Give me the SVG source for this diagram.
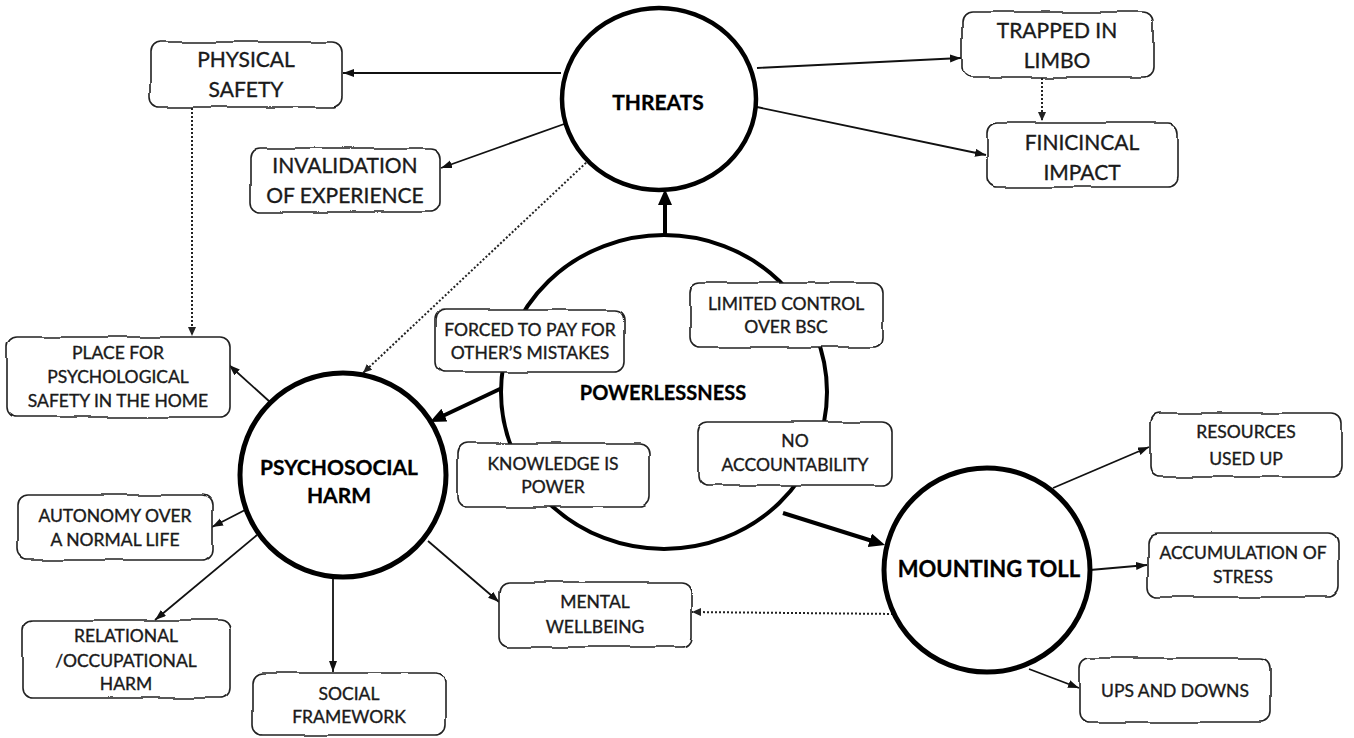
<svg xmlns="http://www.w3.org/2000/svg" width="1354" height="738" viewBox="0 0 1354 738">
  <style>
    .hub { fill: #fff; stroke: #000; }
    .box { fill: #fff; stroke: #222; stroke-width: 1.6; filter: url(#wobble); }
    .lbl { font-family: "Lato", "Open Sans", sans-serif; fill: #1a1a1a; stroke: #1a1a1a; stroke-width: 0.35; text-anchor: middle; }
    .big { font-size: 21px; }
    .sm { font-size: 17.5px; }
    .hubtxt { font-family: "Lato", "Open Sans", sans-serif; font-weight: 700; fill: #000; stroke: #000; stroke-width: 0.3; text-anchor: middle; }
    .thin { stroke: #111; stroke-width: 1.8; fill: none; marker-end: url(#tip); }
    .thick { stroke: #000; stroke-width: 4; fill: none; marker-end: url(#tipBold); }
    .dot { stroke: #222; stroke-width: 2; stroke-dasharray: 2 2; fill: none; marker-end: url(#tipDot); }
  </style>
  <defs>
    <filter id="wobble" x="-5%" y="-10%" width="110%" height="120%">
      <feTurbulence type="fractalNoise" baseFrequency="0.03" numOctaves="1" seed="4" result="noise"/>
      <feDisplacementMap in="SourceGraphic" in2="noise" scale="5" xChannelSelector="R" yChannelSelector="G"/>
    </filter>
    <marker id="tip" markerUnits="userSpaceOnUse" markerWidth="12" markerHeight="10" refX="11" refY="4" orient="auto">
      <path d="M0,0 L11,4 L0,8 Z" fill="#111"/>
    </marker>
    <marker id="tipBold" markerUnits="userSpaceOnUse" markerWidth="18" markerHeight="16" refX="6" refY="7" orient="auto">
      <path d="M0,0 L16,7 L0,14 Z" fill="#000"/>
    </marker>
    <marker id="tipDot" markerUnits="userSpaceOnUse" markerWidth="10" markerHeight="10" refX="9" refY="4" orient="auto">
      <path d="M0,0 L9,4 L0,8 Z" fill="#222"/>
    </marker>
  </defs>

  <rect width="1354" height="738" fill="#fff"/>

  <!-- connectors -->
  <g id="connectors">
    <!-- from THREATS -->
    <line class="thin" x1="561" y1="73" x2="343" y2="73"/>
    <line class="thin" x1="567" y1="123" x2="441" y2="168"/>
    <line class="thin" x1="757" y1="68" x2="961" y2="58"/>
    <line class="thin" x1="757" y1="107" x2="986" y2="155"/>
    <line class="dot" x1="589" y1="160" x2="363" y2="373"/>
    <line class="dot" x1="1042" y1="78" x2="1042" y2="121"/>
    <line class="dot" x1="192" y1="108" x2="192" y2="336"/>
    <!-- from POWERLESSNESS -->
    <line class="thick" x1="665" y1="235" x2="665" y2="199"/>
    <line class="thick" x1="502" y1="388" x2="439" y2="417.7"/>
    <line class="thick" x1="783" y1="513" x2="875.5" y2="542"/>
    <!-- from PSYCHOSOCIAL HARM -->
    <line class="thin" x1="270" y1="402" x2="229" y2="365"/>
    <line class="thin" x1="245" y1="510" x2="212" y2="527"/>
    <line class="thin" x1="257" y1="535" x2="155" y2="620"/>
    <line class="thin" x1="333" y1="577" x2="333" y2="672"/>
    <line class="thin" x1="428" y1="541" x2="499" y2="602"/>
    <!-- from MOUNTING TOLL -->
    <line class="thin" x1="1053" y1="488" x2="1149" y2="447"/>
    <line class="thin" x1="1090" y1="570" x2="1147" y2="565"/>
    <line class="thin" x1="1029" y1="669" x2="1079" y2="688"/>
    <line class="dot" x1="897" y1="614" x2="692" y2="612"/>
  </g>

  <!-- hubs -->
  <g id="threats">
    <ellipse class="hub" cx="659" cy="99" rx="97" ry="91" stroke-width="4.5"/>
    <text class="hubtxt" x="658" y="110" font-size="21">THREATS</text>
  </g>
  <g id="powerlessness">
    <ellipse class="hub" cx="664" cy="392" rx="163" ry="157" stroke-width="4"/>
    <text class="hubtxt" x="663" y="400" font-size="20">POWERLESSNESS</text>
  </g>
  <g id="psychosocial-harm">
    <ellipse class="hub" cx="343" cy="475" rx="103" ry="102" stroke-width="5"/>
    <text class="hubtxt" x="339" y="475" font-size="21">PSYCHOSOCIAL</text>
    <text class="hubtxt" x="339" y="503" font-size="21">HARM</text>
  </g>
  <g id="mounting-toll">
    <ellipse class="hub" cx="987" cy="570" rx="103" ry="102" stroke-width="5"/>
    <text class="hubtxt" x="989" y="577" font-size="22">MOUNTING TOLL</text>
  </g>

  <!-- threat outcomes -->
  <g id="physical-safety">
    <rect class="box" x="150" y="42" width="192" height="65" rx="10"/>
    <text class="lbl big" x="246" y="67">PHYSICAL</text>
    <text class="lbl big" x="246" y="97">SAFETY</text>
  </g>
  <g id="invalidation">
    <rect class="box" x="250" y="148" width="190" height="64" rx="10"/>
    <text class="lbl big" x="345" y="173">INVALIDATION</text>
    <text class="lbl big" x="345" y="203">OF EXPERIENCE</text>
  </g>
  <g id="trapped">
    <rect class="box" x="962" y="12" width="191" height="65" rx="10"/>
    <text class="lbl big" x="1057" y="38">TRAPPED IN</text>
    <text class="lbl big" x="1057" y="68">LIMBO</text>
  </g>
  <g id="financial">
    <rect class="box" x="987" y="123" width="191" height="64" rx="10"/>
    <text class="lbl big" x="1082" y="150">FINICINCAL</text>
    <text class="lbl big" x="1082" y="180">IMPACT</text>
  </g>

  <!-- powerlessness aspects -->
  <g id="forced-to-pay">
    <rect class="box" x="435" y="310" width="190" height="62" rx="10"/>
    <text class="lbl sm" x="530" y="336">FORCED TO PAY FOR</text>
    <text class="lbl sm" x="530" y="359">OTHER’S MISTAKES</text>
  </g>
  <g id="limited-control">
    <rect class="box" x="690" y="283" width="193" height="64" rx="10"/>
    <text class="lbl sm" x="786" y="310">LIMITED CONTROL</text>
    <text class="lbl sm" x="786" y="333">OVER BSC</text>
  </g>
  <g id="knowledge">
    <rect class="box" x="457" y="443" width="193" height="64" rx="10"/>
    <text class="lbl sm" x="553" y="470">KNOWLEDGE IS</text>
    <text class="lbl sm" x="553" y="493">POWER</text>
  </g>
  <g id="no-accountability">
    <rect class="box" x="698" y="422" width="194" height="63" rx="10"/>
    <text class="lbl sm" x="795" y="447">NO</text>
    <text class="lbl sm" x="795" y="471">ACCOUNTABILITY</text>
  </g>

  <!-- harm areas -->
  <g id="place-for-safety">
    <rect class="box" x="7" y="337" width="223" height="80" rx="10"/>
    <text class="lbl sm" x="118" y="359">PLACE FOR</text>
    <text class="lbl sm" x="118" y="383">PSYCHOLOGICAL</text>
    <text class="lbl sm" x="118" y="407">SAFETY IN THE HOME</text>
  </g>
  <g id="autonomy">
    <rect class="box" x="18" y="495" width="194" height="65" rx="10"/>
    <text class="lbl sm" x="115" y="522">AUTONOMY OVER</text>
    <text class="lbl sm" x="115" y="546">A NORMAL LIFE</text>
  </g>
  <g id="relational">
    <rect class="box" x="23" y="620" width="207" height="78" rx="10"/>
    <text class="lbl sm" x="126" y="642">RELATIONAL</text>
    <text class="lbl sm" x="126" y="667">/OCCUPATIONAL</text>
    <text class="lbl sm" x="126" y="690">HARM</text>
  </g>
  <g id="social-framework">
    <rect class="box" x="253" y="673" width="192" height="62" rx="10"/>
    <text class="lbl sm" x="349" y="700">SOCIAL</text>
    <text class="lbl sm" x="349" y="723">FRAMEWORK</text>
  </g>
  <g id="mental-wellbeing">
    <rect class="box" x="499" y="582" width="192" height="65" rx="10"/>
    <text class="lbl sm" x="595" y="608">MENTAL</text>
    <text class="lbl sm" x="595" y="633">WELLBEING</text>
  </g>

  <!-- toll outcomes -->
  <g id="resources">
    <rect class="box" x="1150" y="413" width="192" height="64" rx="10"/>
    <text class="lbl sm" x="1246" y="438">RESOURCES</text>
    <text class="lbl sm" x="1246" y="465">USED UP</text>
  </g>
  <g id="stress">
    <rect class="box" x="1148" y="533" width="190" height="64" rx="10"/>
    <text class="lbl sm" x="1243" y="559">ACCUMULATION OF</text>
    <text class="lbl sm" x="1243" y="583">STRESS</text>
  </g>
  <g id="ups-downs">
    <rect class="box" x="1080" y="658" width="190" height="64" rx="10"/>
    <text class="lbl sm" x="1175" y="697">UPS AND DOWNS</text>
  </g>
</svg>
